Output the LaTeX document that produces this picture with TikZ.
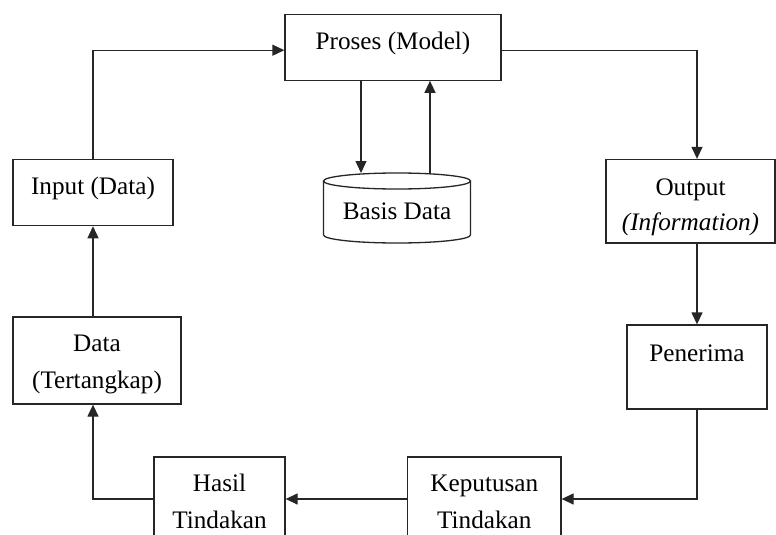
\documentclass[tikz,border=0pt]{standalone}
\usepackage{fontspec}
\setmainfont{Liberation Serif}
\usetikzlibrary{arrows.meta}
\tikzset{
  txt/.style={font=\fontsize{25.2}{36.5}\selectfont, text=black},
  box/.style={txt, draw=black!85, line width=1.3pt, inner sep=0pt, align=center, text height=20pt},
  twoline/.style={text height=60pt},
  flow/.style={draw=black!85, line width=1.3pt, -{Triangle[length=12pt,width=11pt]}},
  drum/.style={draw=black!85, line width=1.3pt},
}
\begin{document}
\begin{tikzpicture}[x=1pt,y=-1pt]
\clip (0,0) rectangle (776,535);
\fill[white] (0,0) rectangle (776,535);

% process boxes
\node[box, minimum width=216pt, minimum height=66pt, text depth=14.4pt] (proses) at (393,47.2) {Proses (Model)};
\node[box, minimum width=160pt, minimum height=66pt, text depth=16.6pt] (inp) at (93,192.6) {Input (Data)};
\node[box, twoline, minimum width=169pt, minimum height=83.5pt, text depth=2.5pt] (out) at (690.5,201.25) {Output\\[-1.5pt]\textit{(Information)}};
\node[box, minimum width=140pt, minimum height=84pt, text depth=30.6pt] (pen) at (697,367) {Penerima};
\node[box, twoline, minimum width=153.3pt, minimum height=84pt, text depth=1.4pt] (kep) at (484.35,499) {Keputusan\\Tindakan};
\node[box, twoline, minimum width=131pt, minimum height=84pt, text depth=1.4pt] (hasil) at (219.5,499) {Hasil\\Tindakan};
\node[box, twoline, minimum width=168pt, minimum height=87pt, text depth=4.4pt] (data) at (97,360.5) {Data\\(Tertangkap)};

% database drum
\draw[drum] (397,181) ellipse [x radius=73.5pt, y radius=8pt];
\draw[drum] (323.5,181) -- (323.5,235)
  arc [start angle=180, end angle=360, x radius=73.5pt, y radius=8pt] -- (470.5,181);
\node[txt, anchor=base] (bd) at (397,219.3) {Basis Data};
\coordinate (cylIn) at (361,173);
\coordinate (cylOut) at (430,173.5);

% flow
\draw[flow] (inp.north) |- ([yshift=-3pt]proses.west);
\draw[flow] (proses.south -| cylIn) -- (cylIn);
\draw[flow] (cylOut) -- (proses.south -| cylOut);
\draw[flow] ([yshift=-3pt]proses.east) -| (out.north -| pen.north);
\draw[flow] (out.south -| pen.north) -- (pen.north);
\draw[flow] (pen.south) |- (kep.east);
\draw[flow] (kep.west) -- (hasil.east);
\draw[flow] (hasil.west) -| (data.south -| inp.south);
\draw[flow] (data.north -| inp.south) -- (inp.south);
\end{tikzpicture}
\end{document}
